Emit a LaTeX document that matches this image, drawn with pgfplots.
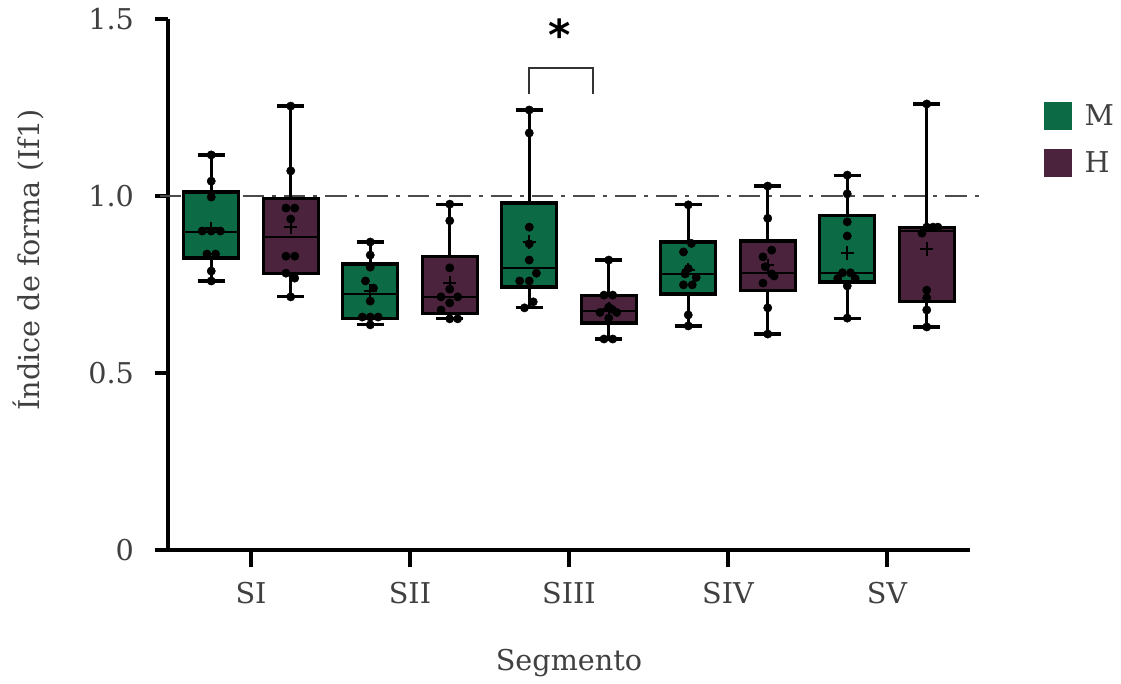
\documentclass[border=0pt]{standalone}
\usepackage{pgfplots}
\pgfplotsset{compat=1.18}
\usepgfplotslibrary{statistics}
\usepackage{fontspec}
\setmainfont{DejaVu Serif}
\newfontfamily\starfont{DejaVu Sans}
\definecolor{mgreen}{RGB}{12,106,68}
\definecolor{hpurple}{RGB}{75,35,60}
\definecolor{txt}{RGB}{64,64,64}
\definecolor{dgray}{RGB}{75,75,75}
\newcommand{\fs}{\fontsize{21.5}{25}\selectfont}
\newcommand{\bx}[7]{\addplot[forget plot, fill=#1, draw=black, line width=2.4pt,
  boxplot/draw direction=y,
  boxplot/every median/.style={line width=1.8pt},
  boxplot prepared={draw direction=y, draw position=#2, lower whisker=#3, lower quartile=#4, median=#5,
  upper quartile=#6, upper whisker=#7, box extend=0.345, whisker extend=0.17}] coordinates {};}
\begin{document}
\begin{tikzpicture}
\useasboundingbox (-126pt,-100.5pt) rectangle (714.75pt,412.5pt);
\begin{axis}[
  scale only axis, width=601.5pt, height=398.25pt,
  xmin=-0.522, xmax=4.522, ymin=0, ymax=1.5,
  axis lines*=left, clip=false,
  x axis line style={line width=2.5pt},
  y axis line style={line width=3pt},
  xtick={0,1,2,3,4}, xticklabels={SI,SII,SIII,SIV,SV},
  ytick={0,0.5,1,1.5}, yticklabels={0,0.5,1.0,1.5},
  tick align=outside, major tick length=10pt,
  tick style={black, line width=2.5pt},
  xtick style={/pgfplots/major tick length=13pt},
  tick label style={font=\fs, text=txt},
  xticklabel style={yshift=-11pt},
  yticklabel style={xshift=-12pt},
  label style={font=\fs, text=txt},
  xlabel={Segmento}, ylabel={Índice de forma (If1)},
  xlabel style={at={(axis description cs:0.5,-0.213)}, anchor=center},
  ylabel style={at={(axis description cs:-0.174,0.546)}, anchor=center},
  legend style={draw=none, fill=none, at={(1.087,0.85)}, anchor=north west,
    font=\fs, text=txt, row sep=14pt},
  legend cell align=left,
]
% reference line
\addplot[forget plot, dgray, line width=2.2pt, dash pattern=on 16pt off 6pt on 3pt off 6pt]
  coordinates {(-0.572,1) (4.616,1)};
% boxes
\bx{mgreen}{-0.25}{0.760}{0.825}{0.898}{1.011}{1.116}
\bx{hpurple}{0.25}{0.715}{0.780}{0.884}{0.992}{1.254}
\bx{mgreen}{0.75}{0.636}{0.653}{0.723}{0.808}{0.870}
\bx{hpurple}{1.25}{0.653}{0.667}{0.715}{0.830}{0.977}
\bx{mgreen}{1.75}{0.684}{0.743}{0.797}{0.980}{1.243}
\bx{hpurple}{2.25}{0.596}{0.641}{0.675}{0.720}{0.819}
\bx{mgreen}{2.75}{0.633}{0.723}{0.780}{0.870}{0.975}
\bx{hpurple}{3.25}{0.610}{0.734}{0.782}{0.873}{1.028}
\bx{mgreen}{3.75}{0.655}{0.757}{0.783}{0.946}{1.059}
\bx{hpurple}{4.25}{0.630}{0.701}{0.901}{0.912}{1.260}
% individual points
\addplot[forget plot, only marks, mark=*, mark size=3.1pt, black] coordinates {
 (-0.25,1.116) (-0.25,1.042) (-0.25,0.997) (-0.307,0.901) (-0.25,0.901) (-0.193,0.901)
 (-0.277,0.836) (-0.223,0.836) (-0.25,0.788) (-0.25,0.760)
 (0.25,1.254) (0.25,1.071) (0.22,0.966) (0.275,0.966) (0.25,0.935) (0.22,0.830)
 (0.275,0.830) (0.22,0.782) (0.275,0.768) (0.25,0.715)
 (0.75,0.870) (0.75,0.833) (0.75,0.799) (0.72,0.760) (0.77,0.740) (0.75,0.703)
 (0.70,0.658) (0.75,0.658) (0.80,0.658) (0.75,0.636)
 (1.25,0.977) (1.25,0.930) (1.25,0.797) (1.25,0.737) (1.195,0.715) (1.30,0.715)
 (1.25,0.698) (1.195,0.678) (1.25,0.653) (1.30,0.653)
 (1.75,1.243) (1.75,1.178) (1.75,0.912) (1.75,0.865) (1.75,0.819) (1.795,0.782)
 (1.69,0.760) (1.75,0.760) (1.775,0.701) (1.72,0.684)
 (2.25,0.819) (2.22,0.720) (2.275,0.720) (2.195,0.671) (2.25,0.686) (2.27,0.680)
 (2.30,0.671) (2.25,0.655) (2.22,0.596) (2.275,0.596)
 (2.75,0.975) (2.77,0.866) (2.72,0.842) (2.75,0.795) (2.73,0.780) (2.80,0.770)
 (2.72,0.749) (2.775,0.749) (2.75,0.664) (2.75,0.633)
 (3.25,1.028) (3.25,0.937) (3.275,0.847) (3.22,0.828) (3.235,0.800) (3.275,0.780)
 (3.29,0.774) (3.22,0.754) (3.25,0.684) (3.25,0.610)
 (3.75,1.059) (3.75,1.006) (3.75,0.927) (3.75,0.887) (3.72,0.783) (3.77,0.783)
 (3.69,0.767) (3.80,0.767) (3.75,0.746) (3.75,0.655)
 (4.25,1.260) (4.25,0.912) (4.29,0.912) (4.32,0.912) (4.22,0.895) (4.25,0.734)
 (4.25,0.712) (4.25,0.678) (4.25,0.630)
};
% means
\addplot[forget plot, only marks, mark=+, mark size=5pt, line width=1.6pt, black] coordinates {
 (-0.25,0.908) (0.25,0.912) (0.75,0.732) (1.25,0.755) (1.75,0.870)
 (2.25,0.681) (2.75,0.791) (3.25,0.804) (3.75,0.839) (4.25,0.850)
};
% significance bracket
\addplot[forget plot, black!80, line width=1.6pt] coordinates {(1.75,1.288) (1.75,1.362) (2.151,1.362) (2.151,1.288)};
\node[font=\starfont\fontsize{32}{32}\selectfont\bfseries] at (axis cs:1.943,1.455) {*};
% legend
\addlegendimage{legend image code/.code={\fill[mgreen] (0pt,-10pt) rectangle (20pt,10pt);}}
\addlegendentry{\hspace{8pt}M}
\addlegendimage{legend image code/.code={\fill[hpurple] (0pt,-10pt) rectangle (20pt,10pt);}}
\addlegendentry{\hspace{8pt}H}
\end{axis}
\end{tikzpicture}
\end{document}
